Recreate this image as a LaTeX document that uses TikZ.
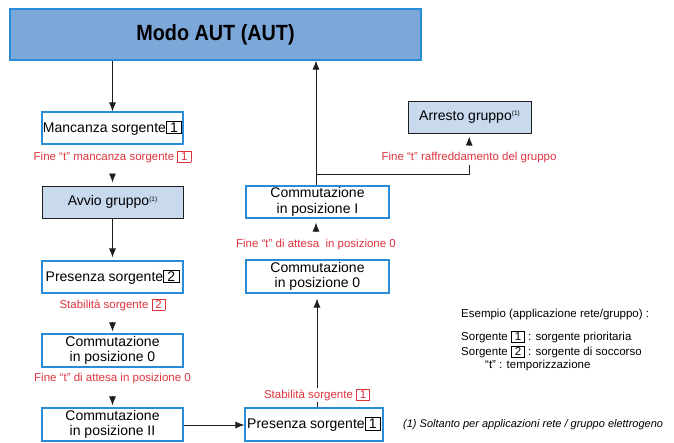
\documentclass[tikz,border=0pt]{standalone}
\usepackage{fontspec}
\setmainfont{Liberation Sans}
\newfontfamily\titlefont[FakeStretch=0.9]{Liberation Sans}
\usetikzlibrary{arrows.meta}
\definecolor{boxblue}{RGB}{40,140,215}
\definecolor{titlefill}{RGB}{124,167,217}
\definecolor{lightfill}{RGB}{201,217,238}
\definecolor{redtxt}{RGB}{222,52,62}
\definecolor{linec}{RGB}{30,30,30}
\newcommand{\bnum}[1]{{\setlength{\fboxsep}{1.1pt}\setlength{\fboxrule}{0.7pt}\fbox{\,#1\,}}}
\newcommand{\rnum}[1]{{\setlength{\fboxsep}{1.1pt}\setlength{\fboxrule}{0.7pt}\fcolorbox{redtxt}{white}{\,#1\,}}}
\newcommand{\supone}{\raisebox{4.5pt}{\fontsize{6.5}{7}\selectfont(1)}}
\tikzset{
  wbox/.style={draw=boxblue, line width=1.1pt, fill=white, inner sep=0pt, align=center, font=\fontsize{14}{15.5}\selectfont},
  gbox/.style={draw=linec, line width=1.0pt, fill=lightfill, inner sep=0pt, align=center, font=\fontsize{14}{15.5}\selectfont},
  redlab/.style={text=redtxt, fill=white, inner sep=1pt, font=\fontsize{11.5}{12}\selectfont},
  leg/.style={anchor=west, inner sep=0pt, font=\fontsize{11.5}{12}\selectfont},
  arr/.style={draw=linec, line width=0.9pt, -{Latex[length=9pt,width=7pt]}},
  ln/.style={draw=linec, line width=0.9pt}
}
\begin{document}
\begin{tikzpicture}[x=1pt,y=-1pt]
\useasboundingbox (0,0) rectangle (674,442);
% title
\node[draw=boxblue, line width=1.3pt, fill=titlefill, minimum width=411pt, minimum height=51pt, inner sep=0pt, font=\titlefont\bfseries\fontsize{22}{24}\selectfont] (top) at (215.5,34.5) {Modo AUT (AUT)};
% left column
\node[wbox, minimum width=141pt, minimum height=32pt] (manc) at (112.5,128) {Mancanza sorgente\bnum{1}};
\node[redlab] (l1) at (112.5,157) {Fine “t” mancanza sorgente \rnum{1}};
\node[gbox, minimum width=141pt, minimum height=32pt] (avvio) at (112.5,202) {Avvio gruppo\supone};
\node[wbox, minimum width=141pt, minimum height=32pt] (pres2) at (112.5,277) {Presenza sorgente\bnum{2}};
\node[redlab] (l2) at (112.5,305) {Stabilità sorgente \rnum{2}};
\node[wbox, minimum width=141pt, minimum height=33pt] (c0l) at (112.5,350.5) {Commutazione\\in posizione 0};
\node[redlab] (l3) at (112.5,379) {Fine “t” di attesa in posizione 0};
\node[wbox, minimum width=141pt, minimum height=33pt] (c2) at (112.5,424.5) {Commutazione\\in posizione II};
% middle column
\node[wbox, minimum width=138pt, minimum height=33pt] (pres1) at (314,424.5) {Presenza sorgente\bnum{1}};
\node[redlab] (l4) at (317,395) {Stabilità sorgente \rnum{1}};
\node[wbox, minimum width=143pt, minimum height=33pt] (c0m) at (317.5,276.5) {Commutazione\\in posizione 0};
\node[redlab] (l5) at (316,245) {Fine “t” di attesa \ in posizione 0};
\node[wbox, minimum width=143pt, minimum height=32pt] (c1) at (317.5,202) {Commutazione\\in posizione I};
% arresto
\node[gbox, minimum width=123pt, minimum height=32pt] (arr) at (469.5,117) {Arresto gruppo\supone};
\node[redlab] (l6) at (469,158) {Fine “t” raffreddamento del gruppo};
% connectors
\draw[arr] (top.south -| manc) -- (manc);
\draw[arr, shorten <=12pt, shorten >=3pt] (l1) -- (avvio);
\draw[arr, shorten >=3pt] (avvio) -- (pres2);
\draw[arr, shorten <=10pt, shorten >=2pt] (l2) -- (c0l);
\draw[arr, shorten <=10pt, shorten >=2pt] (l3) -- (c2);
\draw[arr] (c2.east |- 0,425) -- (pres1.west |- 0,425);
\draw[ln] (pres1.north -| l4) -- (l4);
\draw[arr, shorten >=5pt] (l4) -- (l4 |- c0m.south);
\draw[arr, shorten <=6pt, shorten >=4pt] (l5) -- (l5 |- c1.south);
\coordinate (j) at (316,174);
\draw[arr] (c1.north -| j) -- (top.south -| j);
\draw[ln] (j) -| (l6);
\draw[arr, shorten <=6pt, shorten >=3pt] (l6) -- (arr);
% legend
\node[leg] (e0) at (461,315) {Esempio (applicazione rete/gruppo) :};
\node[leg] (e1) at (461,337) {Sorgente \bnum{1} : sorgente prioritaria};
\node[leg] (e2) at (461,352) {Sorgente \bnum{2} : sorgente di soccorso};
\node[leg] (e3) at (485,366) {“t” : temporizzazione};
\node[anchor=west, inner sep=0pt, font=\itshape\fontsize{11}{12}\selectfont] (fn) at (403,425) {(1) Soltanto per applicazioni rete / gruppo elettrogeno};
\end{tikzpicture}
\end{document}
